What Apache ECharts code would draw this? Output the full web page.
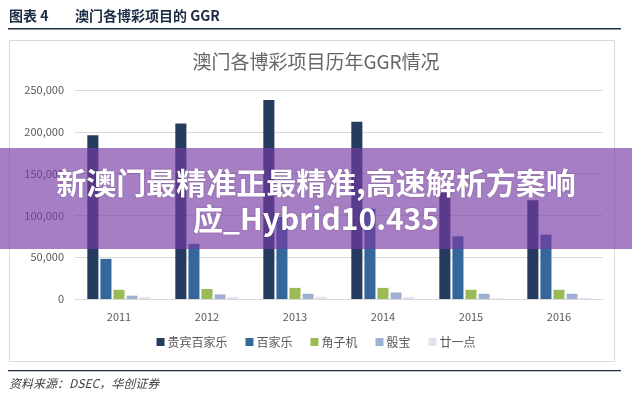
<!DOCTYPE html>
<html lang="zh">
<head>
    <meta charset="UTF-8">
    <title>澳门各博彩项目的GGR</title>
    <script src="https://cdn.jsdelivr.net/npm/echarts@6/dist/echarts.min.js"></script>
    <style>
      *{margin:0;padding:0}
      html,body{width:100%;height:100%;background:#fff}
      #main{width:632px;height:399px}
    </style>
</head>
<body>
<div id="main"></div>
<script>
    // 年份
    var years = ['2011', '2012', '2013', '2014', '2015', '2016'];
    // 各项目GGR（百万澳门元，读图估计）
    var vipBaccarat = [196000, 210000, 238000, 212000, 127000, 118000];
    var baccarat = [48000, 66000, 98000, 108000, 75000, 77000];
    var slots = [11000, 12000, 13300, 13300, 11000, 11000];
    var sicBo = [4000, 5500, 6300, 7800, 6300, 6300];
    var blackjack = [2300, 2300, 2700, 2300, 900, 1200];
    var seriesNames = ['贵宾百家乐', '百家乐', '角子机', '骰宝', '廿一点'];
    var colors = ['#253c5e', '#36679a', '#9bbb59', '#9fb1d2', '#dfe4ec'];

    var chart = echarts.init(document.getElementById('main'));
    var font = '"Noto Sans CJK SC", "Noto Sans", sans-serif';

    var values = [vipBaccarat, baccarat, slots, sicBo, blackjack];
    var series = values.map(function (d, i) {
        return {
            name: seriesNames[i],
            type: 'bar',
            data: d,
            barGap: '18%',
            barCategoryGap: '28%',
            itemStyle: {color: colors[i]}
        };
    });

    var option = {
        backgroundColor: '#fff',
        color: colors,
        textStyle: {fontFamily: font},
        title: {
            text: '澳门各博彩项目历年GGR情况',
            left: 'center',
            top: 47,
            textStyle: {fontSize: 19, fontWeight: 'normal', color: '#666', fontFamily: font}
        },
        legend: {
            bottom: 46,
            left: 'center',
            itemWidth: 8,
            itemHeight: 8,
            itemGap: 18,
            icon: 'rect',
            textStyle: {fontSize: 12, color: '#595959', padding: [0, 0, 0, -2]},
            data: seriesNames
        },
        grid: {left: 75, right: 29, top: 90, bottom: 100},
        xAxis: {
            type: 'category',
            data: years,
            axisLine: {lineStyle: {color: '#d9d9d9'}},
            axisTick: {show: false},
            axisLabel: {color: '#595959', fontSize: 11, margin: 12}
        },
        yAxis: {
            type: 'value',
            min: 0,
            max: 250000,
            interval: 50000,
            axisLine: {show: false},
            axisTick: {show: false},
            splitLine: {lineStyle: {color: '#d9d9d9'}},
            axisLabel: {
                color: '#595959', fontSize: 11, margin: 11,
                formatter: function (v) { return v.toLocaleString('en-US'); }
            }
        },
        graphic: [
            // 表头
            {type: 'text', left: 9, top: 9, style: {text: '图表 4', fontSize: 14, fontWeight: 'bold', fill: '#1c2c45', fontFamily: font}},
            {type: 'text', left: 75, top: 9, style: {text: '澳门各博彩项目的 GGR', fontSize: 14, fontWeight: 'bold', fill: '#1c2c45', fontFamily: font}},
            {type: 'rect', shape: {x: 8, y: 28, width: 613, height: 1.5}, style: {fill: '#1c2c45'}},
            // 图框
            {type: 'rect', shape: {x: 9.5, y: 40.5, width: 605, height: 321}, style: {fill: 'none', stroke: '#d9d9d9', lineWidth: 1}, z: -1},
            // 底部
            {type: 'rect', shape: {x: 8, y: 370, width: 613, height: 1.2}, style: {fill: '#1c2c45'}},
            {type: 'text', left: 9, top: 377, style: {text: '资料来源：DSEC，华创证券', fontSize: 12, fontStyle: 'italic', fill: '#404040', fontFamily: font}},
            // 紫色横幅
            {type: 'rect', z: 100, shape: {x: 0, y: 148, width: 632, height: 101}, style: {fill: 'rgba(119,57,165,0.65)'}},
            {type: 'text', z: 101, x: 316, y: 165, style: {
                text: '新澳门最精准正最精准,高速解析方案响\n应_Hybrid10.435',
                fontSize: 30, fontWeight: 'bold', fill: '#fff', align: 'center', verticalAlign: 'top', lineHeight: 36,
                fontFamily: font, textShadowColor: 'rgba(0,0,0,0.25)', textShadowBlur: 2
            }}
        ],
        series: series
    };
    chart.setOption(option);
</script>
</body>
</html>
